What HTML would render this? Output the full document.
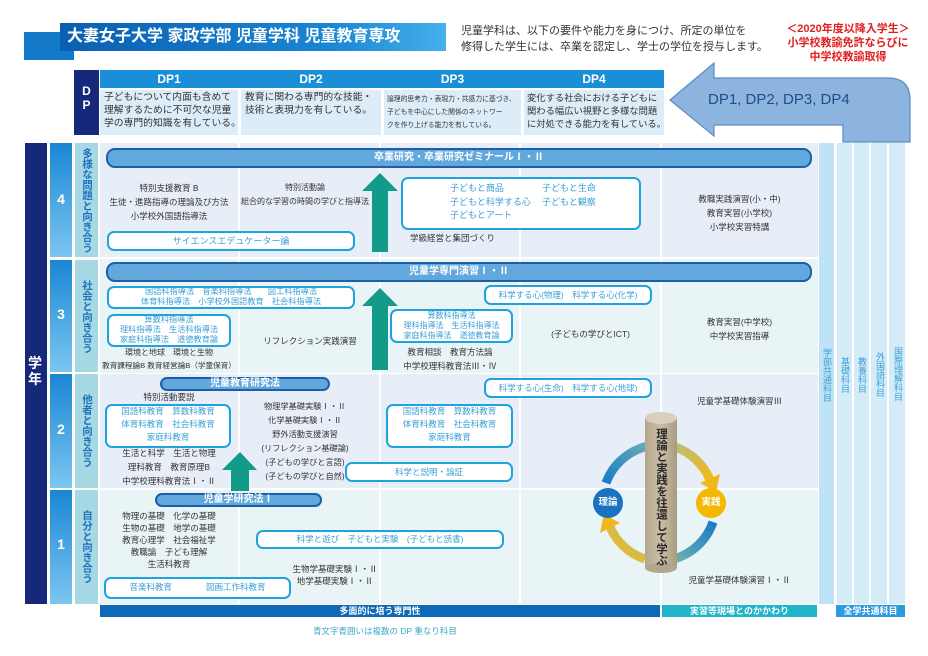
<!DOCTYPE html>
<html><head><meta charset="utf-8">
<style>
*{margin:0;padding:0;box-sizing:border-box}
body{width:928px;height:656px;background:#fff;position:relative;overflow:hidden;font-family:"Liberation Sans","Noto Sans CJK JP",sans-serif;color:#222}
.a{position:absolute}
.t{position:absolute;font-size:8.5px;line-height:14px;white-space:nowrap;text-align:center;color:#333}
.b{position:absolute;border:2px solid #1fa3df;border-radius:7px;background:#fff}
.c{color:#3a9fd6}
.bar{position:absolute;background:#62a8dc;border:2px solid #1a5fa8;border-radius:9px;color:#fff;font-weight:bold;font-size:10px;text-align:center}
.v{writing-mode:vertical-rl;position:absolute}
</style></head><body>

<!-- title -->
<div class="a" style="left:24px;top:32px;width:50px;height:28px;background:#1479c8"></div>
<div class="a" style="left:60px;top:23px;width:386px;height:28px;background:linear-gradient(90deg,#0a5fb0,#1a86d4 70%,#45b0ea)"></div>
<div class="a" style="left:67px;top:23px;color:#fff;font-weight:bold;font-size:16px;line-height:28px;white-space:nowrap">大妻女子大学 家政学部 児童学科 児童教育専攻</div>
<div class="t" style="left:461px;top:23px;font-size:11px;line-height:16px;text-align:left;color:#333">児童学科は、以下の要件や能力を身につけ、所定の単位を<br>修得した学生には、卒業を認定し、学士の学位を授与します。</div>
<div class="t" style="left:772px;top:22px;width:152px;font-size:11px;line-height:14px;color:#e02020;font-weight:bold">＜2020年度以降入学生＞<br>小学校教諭免許ならびに<br>中学校教諭取得</div>

<!-- DP table -->
<div class="a" style="left:74px;top:70px;width:25px;height:65px;background:#15287a;color:#fff;font-weight:bold;font-size:12px;line-height:14px;text-align:center;padding-top:14px">D<br>P</div>
<div class="a" style="left:100px;top:70px;width:564px;height:18px;background:#1a8fd8"></div>
<div class="t" style="left:100px;top:71px;width:138px;color:#fff;font-size:12px;font-weight:bold;line-height:16px">DP1</div>
<div class="t" style="left:241px;top:71px;width:140px;color:#fff;font-size:12px;font-weight:bold;line-height:16px">DP2</div>
<div class="t" style="left:384px;top:71px;width:137px;color:#fff;font-size:12px;font-weight:bold;line-height:16px">DP3</div>
<div class="t" style="left:524px;top:71px;width:140px;color:#fff;font-size:12px;font-weight:bold;line-height:16px">DP4</div>
<div class="a" style="left:100px;top:90px;width:138px;height:45px;background:#dcecf8"></div>
<div class="a" style="left:241px;top:90px;width:140px;height:45px;background:#dcecf8"></div>
<div class="a" style="left:384px;top:90px;width:137px;height:45px;background:#dcecf8"></div>
<div class="a" style="left:524px;top:90px;width:140px;height:45px;background:#dcecf8"></div>
<div class="t" style="left:104px;top:92px;text-align:left;font-size:9.8px;line-height:12.8px">子どもについて内面も含めて<br>理解するために不可欠な児童<br>学の専門的知識を有している。</div>
<div class="t" style="left:245px;top:92px;text-align:left;font-size:9.8px;line-height:12.8px">教育に関わる専門的な技能・<br>技術と表現力を有している。</div>
<div class="t" style="left:387px;top:93px;text-align:left;font-size:6.8px;line-height:13px">論理的思考力・表現力・共感力に基づき、<br>子どもを中心にした関係のネットワー<br>クを作り上げる能力を有している。</div>
<div class="t" style="left:527px;top:92px;text-align:left;font-size:9.3px;line-height:12.8px">変化する社会における子どもに<br>関わる幅広い視野と多様な問題<br>に対処できる能力を有している。</div>
<svg class="a" style="left:0;top:0" width="928" height="656">
<path d="M670,100 L714,63 L714,78 L888,78 Q910,78 910,100 L910,142 L843,142 L843,125 L714,125 L714,136 Z" fill="#8db4df" stroke="#5b8cc4" stroke-width="1.2"/>
</svg>
<div class="t" style="left:708px;top:91px;font-size:15px;line-height:18px;color:#1f4e8c">DP1, DP2, DP3, DP4</div>

<!-- grid -->
<div class="a" style="left:25px;top:143px;width:22px;height:461px;background:#15287a"></div>
<div class="v" style="left:28px;top:355px;color:#fff;font-weight:bold;font-size:14px;writing-mode:horizontal-tb;width:16px;line-height:16px">学<br>年</div>
<div class="a" style="left:50px;top:143px;width:22px;height:114px;background:linear-gradient(#1a86d4,#7cc6f0)"></div>
<div class="a" style="left:50px;top:260px;width:22px;height:112px;background:linear-gradient(#1a86d4,#7cc6f0)"></div>
<div class="a" style="left:50px;top:374px;width:22px;height:114px;background:linear-gradient(#1a86d4,#7cc6f0)"></div>
<div class="a" style="left:50px;top:490px;width:22px;height:114px;background:linear-gradient(#1a86d4,#7cc6f0)"></div>
<div class="t" style="left:50px;top:192px;width:22px;color:#fff;font-weight:bold;font-size:14px">4</div>
<div class="t" style="left:50px;top:307px;width:22px;color:#fff;font-weight:bold;font-size:14px">3</div>
<div class="t" style="left:50px;top:422px;width:22px;color:#fff;font-weight:bold;font-size:14px">2</div>
<div class="t" style="left:50px;top:537px;width:22px;color:#fff;font-weight:bold;font-size:14px">1</div>
<div class="a" style="left:75px;top:143px;width:23px;height:114px;background:#a6d9e4"></div>
<div class="a" style="left:75px;top:260px;width:23px;height:112px;background:#a6d9e4"></div>
<div class="a" style="left:75px;top:374px;width:23px;height:114px;background:#a6d9e4"></div>
<div class="a" style="left:75px;top:490px;width:23px;height:114px;background:#a6d9e4"></div>
<div class="v" style="left:80px;top:148px;color:#1f72c0;font-weight:bold;font-size:10.5px;line-height:14px">多様な問題と向き合う</div>
<div class="v" style="left:80px;top:280px;color:#1f72c0;font-weight:bold;font-size:10.5px;line-height:14px">社会と向き合う</div>
<div class="v" style="left:80px;top:394px;color:#1f72c0;font-weight:bold;font-size:10.5px;line-height:14px">他者と向き合う</div>
<div class="v" style="left:80px;top:510px;color:#1f72c0;font-weight:bold;font-size:10.5px;line-height:14px">自分と向き合う</div>

<div class="a" style="left:100px;top:143px;width:718px;height:114px;background:#e8eef8"></div>
<div class="a" style="left:100px;top:259px;width:718px;height:114px;background:#e9f4f6"></div>
<div class="a" style="left:100px;top:374px;width:718px;height:114px;background:#e8eef8"></div>
<div class="a" style="left:100px;top:490px;width:718px;height:114px;background:#e9f4f6"></div>
<div class="a" style="left:238px;top:143px;width:2px;height:461px;background:#fff"></div>
<div class="a" style="left:379px;top:143px;width:2px;height:461px;background:#fff"></div>
<div class="a" style="left:519px;top:143px;width:2px;height:461px;background:#fff"></div>
<div class="a" style="left:660px;top:143px;width:2px;height:461px;background:#fff"></div>

<!-- right strips -->
<div class="a" style="left:819px;top:143px;width:15px;height:461px;background:#bfe3f6"></div>
<div class="a" style="left:837px;top:143px;width:15px;height:461px;background:#d3ecf8"></div>
<div class="a" style="left:854px;top:143px;width:15px;height:461px;background:#d3ecf8"></div>
<div class="a" style="left:871px;top:143px;width:16px;height:461px;background:#d3ecf8"></div>
<div class="a" style="left:889px;top:143px;width:16px;height:461px;background:#d3ecf8"></div>
<div class="v" style="left:821px;top:348px;font-size:9px;line-height:11px;color:#3a9fd6">学部共通科目</div>
<div class="v" style="left:839px;top:357px;font-size:9px;line-height:11px;color:#3a9fd6">基礎科目</div>
<div class="v" style="left:856px;top:357px;font-size:9px;line-height:11px;color:#3a9fd6">教養科目</div>
<div class="v" style="left:874px;top:352px;font-size:9px;line-height:11px;color:#3a9fd6">外国語科目</div>
<div class="v" style="left:892px;top:347px;font-size:9px;line-height:11px;color:#3a9fd6">国際理解科目</div>

<!-- bottom bars -->
<div class="a" style="left:100px;top:605px;width:560px;height:12px;background:#0e6ab8;color:#fff;font-weight:bold;font-size:9px;line-height:12px;text-align:center">多面的に培う専門性</div>
<div class="a" style="left:662px;top:605px;width:155px;height:12px;background:#1eb5c9;color:#fff;font-weight:bold;font-size:9px;line-height:12px;text-align:center">実習等現場とのかかわり</div>
<div class="a" style="left:836px;top:605px;width:69px;height:12px;background:#2b9ae0;color:#fff;font-weight:bold;font-size:9px;line-height:12px;text-align:center">全学共通科目</div>
<div class="t" style="left:300px;top:624px;width:170px;font-size:8.5px;color:#3aa9c9">青文字青囲いは複数の DP 重なり科目</div>

<!-- bars -->
<div class="bar" style="left:106px;top:148px;width:706px;height:20px;line-height:16px">卒業研究・卒業研究ゼミナールⅠ・Ⅱ</div>
<div class="bar" style="left:106px;top:262px;width:706px;height:20px;line-height:16px">児童学専門演習Ⅰ・Ⅱ</div>
<div class="bar" style="left:160px;top:377px;width:170px;height:14px;line-height:10px">児童教育研究法</div>
<div class="bar" style="left:155px;top:493px;width:167px;height:14px;line-height:10px">児童学研究法Ⅰ</div>

<!-- green arrows -->
<svg class="a" style="left:0;top:0" width="928" height="656">
<polygon points="380,173 398,191 388,191 388,252 372,252 372,191 362,191" fill="#139b8a"/>
<polygon points="380,288 398,306 388,306 388,370 372,370 372,306 362,306" fill="#139b8a"/>
<polygon points="240,452 257,470 249,470 249,491 231,491 231,470 222,470" fill="#139b8a"/>
</svg>

<!-- row 4 -->
<div class="t" style="left:100px;top:181px;width:138px">特別支援教育 B<br>生徒・進路指導の理論及び方法<br>小学校外国語指導法</div>
<div class="b" style="left:107px;top:231px;width:248px;height:20px"></div>
<div class="t c" style="left:107px;top:234px;width:248px;font-size:9px">サイエンスエデュケーター論</div>
<div class="t" style="left:240px;top:181px;width:130px;font-size:8px">特別活動論<br>総合的な学習の時間の学びと指導法</div>
<div class="b" style="left:401px;top:177px;width:240px;height:53px"></div>
<div class="t c" style="left:450px;top:182px;text-align:left;font-size:9px;line-height:13.5px">子どもと商品<br>子どもと科学する心<br>子どもとアート</div>
<div class="t c" style="left:542px;top:182px;text-align:left;font-size:9px;line-height:13.5px">子どもと生命<br>子どもと観察</div>
<div class="t" style="left:410px;top:231px;text-align:left">学級経営と集団づくり</div>
<div class="t" style="left:662px;top:192px;width:155px">教職実践演習(小・中)<br>教育実習(小学校)<br>小学校実習特講</div>

<!-- row 3 -->
<div class="b" style="left:107px;top:286px;width:248px;height:23px"></div>
<div class="t c" style="left:107px;top:287px;width:248px;line-height:10px;font-size:8.2px">国語科指導法　音楽科指導法　　図工科指導法<br>体育科指導法　小学校外国語教育　社会科指導法</div>
<div class="b" style="left:107px;top:314px;width:124px;height:33px"></div>
<div class="t c" style="left:107px;top:315px;width:124px;line-height:10px;font-size:8.2px">算数科指導法<br>理科指導法　生活科指導法<br>家庭科指導法　道徳教育論</div>
<div class="t" style="left:100px;top:346px;width:138px;font-size:8px">環境と地球　環境と生物</div>
<div class="t" style="left:100px;top:359px;width:138px;font-size:7.6px">教育課程論B 教育経営論B（学童保育）</div>
<div class="t" style="left:240px;top:334px;width:140px">リフレクション実践演習</div>
<div class="b" style="left:390px;top:309px;width:123px;height:34px"></div>
<div class="t c" style="left:390px;top:311px;width:123px;line-height:10px;font-size:8px">算数科指導法<br>理科指導法　生活科指導法<br>家庭科指導法　道徳教育論</div>
<div class="t" style="left:381px;top:345px;width:138px">教育相談　教育方法論<br>中学校理科教育法Ⅲ・Ⅳ</div>
<div class="b" style="left:484px;top:285px;width:168px;height:20px"></div>
<div class="t c" style="left:484px;top:288px;width:168px">科学する心(物理)　科学する心(化学)</div>
<div class="t" style="left:521px;top:327px;width:139px">(子どもの学びとICT)</div>
<div class="t" style="left:662px;top:315px;width:155px">教育実習(中学校)<br>中学校実習指導</div>

<!-- row 2 -->
<div class="t" style="left:100px;top:390px;width:138px">特別活動要説</div>
<div class="b" style="left:105px;top:404px;width:126px;height:44px"></div>
<div class="t c" style="left:105px;top:405px;width:126px;line-height:13px">国語科教育　算数科教育<br>体育科教育　社会科教育<br>家庭科教育</div>
<div class="t" style="left:100px;top:446px;width:138px">生活と科学　生活と物理<br>理科教育　教育原理B<br>中学校理科教育法Ⅰ・Ⅱ</div>
<div class="t" style="left:240px;top:400px;width:130px;font-size:8.2px">物理学基礎実験Ⅰ・Ⅱ<br>化学基礎実験Ⅰ・Ⅱ<br>野外活動支援演習<br>(リフレクション基礎論)<br>(子どもの学びと言語)<br>(子どもの学びと自然)</div>
<div class="b" style="left:386px;top:404px;width:127px;height:44px"></div>
<div class="t c" style="left:386px;top:405px;width:127px;line-height:13px">国語科教育　算数科教育<br>体育科教育　社会科教育<br>家庭科教育</div>
<div class="b" style="left:345px;top:462px;width:168px;height:20px"></div>
<div class="t c" style="left:345px;top:465px;width:168px">科学と説明・論証</div>
<div class="b" style="left:484px;top:378px;width:168px;height:20px"></div>
<div class="t c" style="left:484px;top:381px;width:168px">科学する心(生命)　科学する心(地球)</div>
<div class="t" style="left:662px;top:394px;width:155px">児童学基礎体験演習Ⅲ</div>

<!-- row 1 -->
<div class="t" style="left:100px;top:510px;width:138px;line-height:12px">物理の基礎　化学の基礎<br>生物の基礎　地学の基礎<br>教育心理学　社会福祉学<br>教職論　子ども理解<br>生活科教育</div>
<div class="b" style="left:256px;top:530px;width:248px;height:19px"></div>
<div class="t c" style="left:256px;top:532px;width:248px">科学と遊び　子どもと実験　(子どもと読書)</div>
<div class="t" style="left:275px;top:563px;width:120px;line-height:12px">生物学基礎実験Ⅰ・Ⅱ<br>地学基礎実験Ⅰ・Ⅱ</div>
<div class="b" style="left:104px;top:577px;width:187px;height:22px"></div>
<div class="t c" style="left:104px;top:580px;width:187px">音楽科教育　　　　図画工作科教育</div>
<div class="t" style="left:662px;top:573px;width:155px">児童学基礎体験演習Ⅰ・Ⅱ</div>

<!-- cycle -->
<svg class="a" style="left:0;top:0" width="928" height="656">
<defs>
<linearGradient id="g1" x1="0" y1="1" x2="1" y2="0"><stop offset="0" stop-color="#1a7cc8"/><stop offset="1" stop-color="#6fb0b0"/></linearGradient>
<linearGradient id="g2" x1="0" y1="0" x2="1" y2="1"><stop offset="0" stop-color="#b9bf7a"/><stop offset="1" stop-color="#f2b81a"/></linearGradient>
<linearGradient id="g3" x1="1" y1="0" x2="0" y2="1"><stop offset="0" stop-color="#1a7cc8"/><stop offset="1" stop-color="#6fb0b0"/></linearGradient>
<linearGradient id="g4" x1="1" y1="0" x2="0" y2="1"><stop offset="0" stop-color="#b9bf7a"/><stop offset="1" stop-color="#f2b81a"/></linearGradient>
<linearGradient id="cy" x1="0" x2="1"><stop offset="0" stop-color="#b3a68c"/><stop offset=".5" stop-color="#cbbfa6"/><stop offset="1" stop-color="#a89a7e"/></linearGradient>
</defs>
<path d="M606,483 A58,58 0 0 1 655,445" fill="none" stroke="url(#g1)" stroke-width="9"/>
<path d="M675,447 A58,58 0 0 1 710,480" fill="none" stroke="url(#g2)" stroke-width="9"/>
<polygon points="716,492 720,474 700,483" fill="#f2b81a"/>
<path d="M713,522 A58,58 0 0 1 674,559" fill="none" stroke="url(#g3)" stroke-width="9"/>
<path d="M645,559 A58,58 0 0 1 610,527" fill="none" stroke="url(#g4)" stroke-width="9"/>
<polygon points="604,514 600,533 620,523" fill="#f2b81a"/>
<rect x="645" y="418" width="32" height="150" fill="url(#cy)"/>
<ellipse cx="661" cy="568" rx="16" ry="5" fill="#b3a68c"/>
<ellipse cx="661" cy="418" rx="16" ry="6" fill="#d8cfbd"/>
<circle cx="608" cy="503" r="15" fill="#1a73c2"/>
<circle cx="711" cy="503" r="15" fill="#f5b800"/>
</svg>
<div class="v" style="left:654px;top:428px;font-size:11.5px;font-weight:bold;color:#2a2a2a;line-height:14px">理論と実践を往還して学ぶ</div>
<div class="t" style="left:593px;top:496px;width:30px;color:#fff;font-weight:bold;font-size:9.5px">理論</div>
<div class="t" style="left:696px;top:496px;width:30px;color:#fff;font-weight:bold;font-size:9.5px">実践</div>

</body></html>
